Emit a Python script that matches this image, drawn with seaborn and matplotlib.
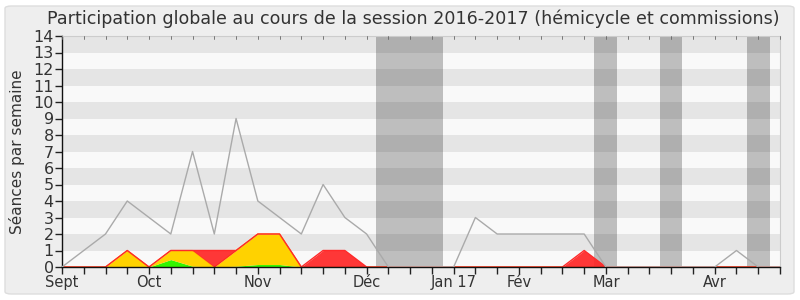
import matplotlib
matplotlib.use("Agg")
import matplotlib.pyplot as plt
from matplotlib.patches import FancyBboxPatch
import seaborn as sns
import numpy as np

sns.set_theme(style="white")
plt.rcParams['font.family'] = ['DejaVu Sans']

# weekly data (week index 0 = first week of September 2016)
weeks = list(range(34))
total = [0, 1, 2, 4, 3, 2, 7, 2, 9, 4, 3, 2, 5, 3, 2, 0, 0, 0, 0, 3, 2, 2, 2, 2, 2, 0, 0, 0, 0, 0, 0, 1, 0, 0]
green = [0, 0, 0, 0, 0, 0.45, 0.05, 0, 0.05, 0.15, 0.15, 0, 0, 0, 0, 0, 0, 0, 0, 0, 0, 0, 0, 0, 0, 0, 0, 0, 0, 0, 0, 0, 0, 0]
yellow = [0, 0, 0, 1, 0, 0.55, 0.95, 0, 0.95, 1.85, 1.85, 0, 0, 0, 0, 0, 0, 0, 0, 0, 0, 0, 0, 0, 0, 0, 0, 0, 0, 0, 0, 0, 0, 0]
red = [0, 0, 0, 0, 0, 0, 0, 1, 0, 0, 0, 0, 1, 1, 0, 0, 0, 0, 0, 0, 0, 0, 0, 0, 1, 0, 0, 0, 0, 0, 0, 0, 0, 0]
vacations = [(14.45, 17.5), (24.45, 25.5), (27.48, 28.5), (31.5, 32.55)]
month_pos = [0, 4, 9, 14, 18, 21, 25, 30]
month_labels = ["Sept", "Oct", "Nov", "Déc", "Jan 17", "Fév", "Mar", "Avr"]
title = "Participation globale au cours de la session 2016-2017 (hémicycle et commissions)"
ylabel = "Séances par semaine"

fig = plt.figure(figsize=(8, 3), dpi=100)
fig.patch.set_facecolor("white")
bg = FancyBboxPatch((5 / 800, 6 / 300), 789 / 800, 288 / 300,
                    boxstyle="round,pad=0,rounding_size=0.008",
                    transform=fig.transFigure, facecolor="#EEEEEE",
                    edgecolor="#DDDDDD", linewidth=1, zorder=-10)
fig.patches.append(bg)

ax = fig.add_axes([62 / 800, 1 - 267 / 300, 718 / 800, 231 / 300])
ax.set_facecolor("#F9F9F9")
ax.set_xlim(0, 33)
ax.set_ylim(0, 14)

for a, b in vacations:
    ax.axvspan(a, b, color="#BEBEBE", zorder=0.5, lw=0)
for y0 in range(1, 14, 2):
    ax.axhspan(y0, y0 + 1, color="black", alpha=0.08, zorder=0.6, lw=0)

w = np.array(weeks)
g = np.array(green)
yl = np.array(yellow)
r = np.array(red)
ax.fill_between(w, 0, g, color="#33F500", lw=0, zorder=2)
ax.fill_between(w, g, g + yl, color="#FFD200", lw=0, zorder=2)
ax.plot(w, g + yl, color="#FF9900", lw=0.8, zorder=2.1)
ax.fill_between(w, g + yl, g + yl + r, color="#FF2222", alpha=0.9, lw=0, zorder=2.2)
ax.plot(w, g + yl + r, color="#FF2A2A", lw=1.0, zorder=2.3)

sns.lineplot(x=weeks, y=total, ax=ax, color="#AAAAAA", lw=1, zorder=3)

ax.set_xticks(weeks)
ax.set_xticklabels([month_labels[month_pos.index(k)] if k in month_pos else "" for k in weeks])
ax.set_yticks(range(0, 15))
ax.tick_params(axis="x", direction="out", length=5, width=1, color="#222222",
               labelsize=10.5, pad=1, labelcolor="#333333", bottom=True, top=False)
ax.tick_params(axis="y", direction="out", length=5, width=1, color="#222222",
               labelsize=11.5, pad=1, labelcolor="#333333", left=True)
for k in weeks:
    ax.plot([k, k], [14, 13.8], color="#666666", lw=0.6, zorder=4, clip_on=False)

for s in ["left", "bottom"]:
    ax.spines[s].set_color("#111111")
    ax.spines[s].set_linewidth(1)
for s in ["top", "right"]:
    ax.spines[s].set_color("#CCCCCC")
    ax.spines[s].set_linewidth(0.8)
ax.set_xlabel("")
ax.set_ylabel(ylabel, fontsize=11, color="#333333", labelpad=6)
fig.text(413 / 800, 1 - 19 / 300, title, ha="center", va="center", fontsize=12.6, color="#333333")

fig.savefig("out.png", dpi=100)
